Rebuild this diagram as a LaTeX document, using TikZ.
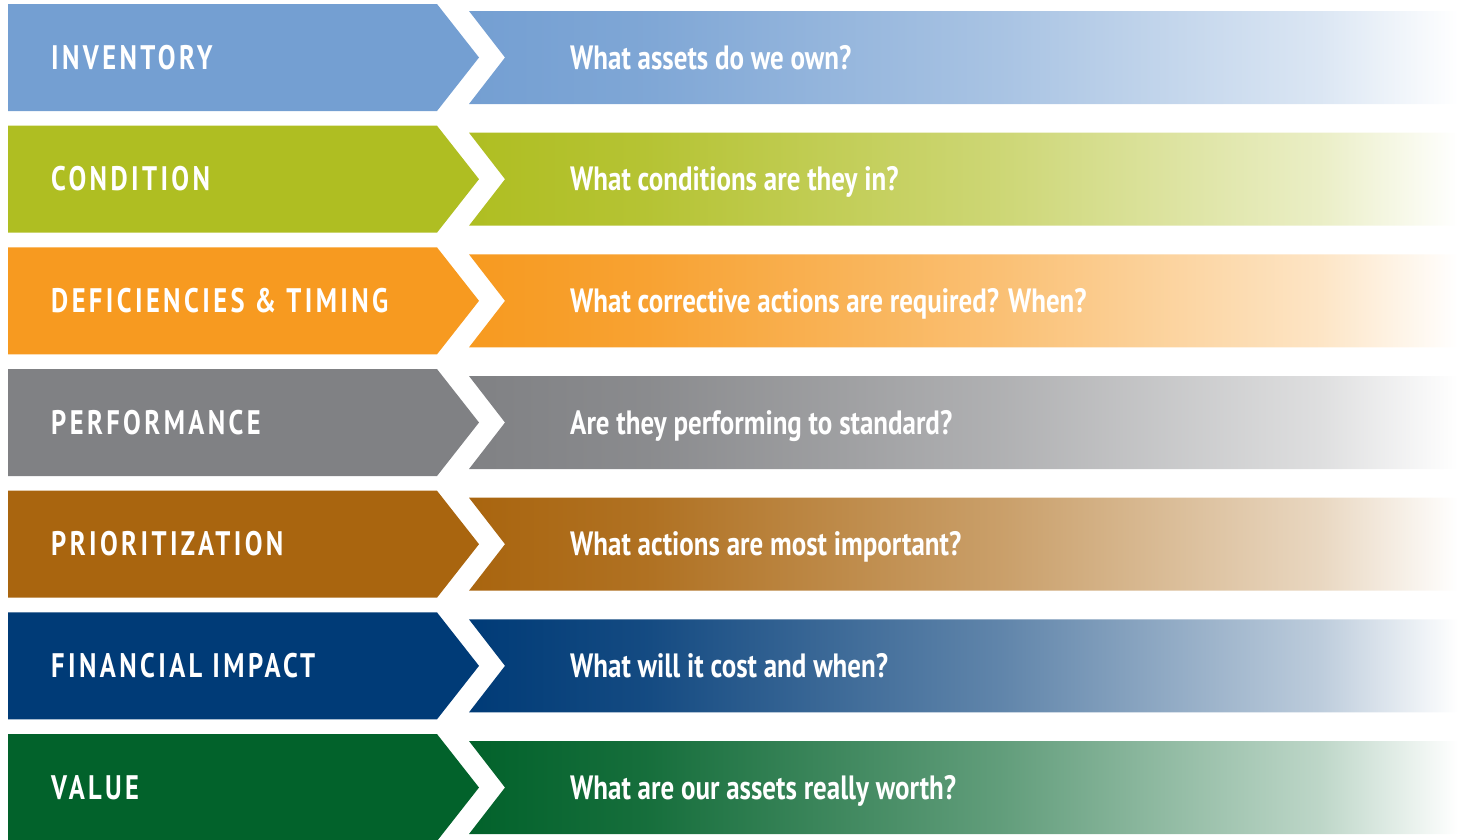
\documentclass[tikz,border=0pt]{standalone}
\usepackage{fontspec}
\setmainfont{PT Sans}
\newfontfamily\qfont[FakeStretch=0.80]{PT Sans}
\newfontfamily\lfont[FakeStretch=0.78,LetterSpace=10]{PT Sans}
\definecolor{cInv}{HTML}{749FD2}
\definecolor{cCon}{HTML}{AFBE22}
\definecolor{cDef}{HTML}{F79A20}
\definecolor{cPer}{HTML}{808184}
\definecolor{cPri}{HTML}{A9650F}
\definecolor{cFin}{HTML}{003B77}
\definecolor{cVal}{HTML}{02622B}
\colorlet{rowc}{cInv}
\colorlet{rowa}{cInv}
\colorlet{rowb}{cInv}
\colorlet{rowd}{cInv}
\pgfdeclarehorizontalshading[rowc,rowa,rowb,rowd]{fade}{100bp}{color(0bp)=(rowc); color(25bp)=(rowc); color(34bp)=(rowa); color(52bp)=(rowb); color(68bp)=(rowd); color(75bp)=(white); color(100bp)=(white)}
\tikzset{
  labtext/.style={text=white, inner sep=0pt, font=\lfont\bfseries\fontsize{34}{34}\selectfont},
  qtext/.style={text=white, inner sep=0pt, font=\qfont\bfseries\fontsize{33.7}{34}\selectfont}
}
\begin{document}
\begin{tikzpicture}[x=1pt,y=-1pt]
\useasboundingbox (0,0) rectangle (1464,839);
\clip (0,0) rectangle (1464,839);
\foreach \i/\c/\lab/\q in {
  0/cInv/INVENTORY/{What assets do we own?},
  1/cCon/CONDITION/{What conditions are they in?},
  2/cDef/{DEFICIENCIES \& TIMING}/{What corrective actions are required? When?},
  3/cPer/PERFORMANCE/{Are they performing to standard?},
  4/cPri/PRIORITIZATION/{What actions are most important?},
  5/cFin/{FINANCIAL IMPACT}/{What will it cost and when?},
  6/cVal/VALUE/{What are our assets really worth?}}{
  \colorlet{rowc}{\c}
  \colorlet{rowa}{\c!92!white}
  \colorlet{rowb}{\c!62!white}
  \colorlet{rowd}{\c!26!white}
  \pgfmathsetmacro\yt{4+121.67*\i}
  \fill[\c] (8,\yt) -- (437,\yt) -- (479,\yt+53.5) -- (437,\yt+107) -- (8,\yt+107) -- cycle;
  \shade[shading=fade] (469,\yt+7) -- (1458,\yt+7) -- (1458,\yt+100) -- (469,\yt+100) -- (505,\yt+53.5) -- cycle;
  \node[labtext, anchor=base west] (l\i) at (51,\yt+65) {\lab};
  \node[qtext, anchor=base west] (q\i) at (570,\yt+65.3) {\q};
}
\end{tikzpicture}
\end{document}
